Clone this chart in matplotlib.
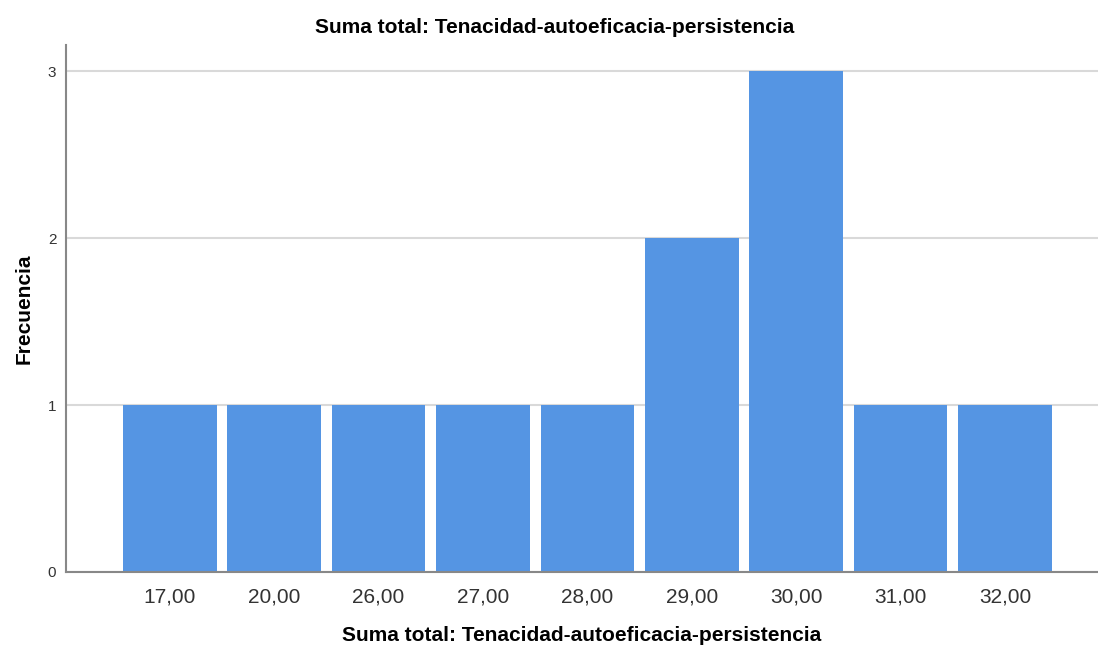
import matplotlib.pyplot as plt

categorias = ["17,00", "20,00", "26,00", "27,00", "28,00", "29,00", "30,00", "31,00", "32,00"]
frecuencias = [1, 1, 1, 1, 1, 2, 3, 1, 1]
y_ticks = [0, 1, 2, 3]

plt.rcParams["font.family"] = ["Liberation Sans", "DejaVu Sans"]

fig = plt.figure(figsize=(10.98, 6.46), dpi=100)
ax = fig.add_axes([0.0601, 0.1146, 0.9399, 0.8157])

pos = range(len(categorias))
ax.bar(pos, frecuencias, width=0.896, color="#5595e3", zorder=3)

ax.set_xlim(-0.994, 8.89)
ax.set_ylim(0, 3.156)
ax.set_xticks(list(pos))
ax.set_xticklabels(categorias, fontsize=15, color="#333333")
ax.set_yticks(y_ticks)
ax.set_yticklabels([str(t) for t in y_ticks], fontsize=11, color="#333333")
ax.tick_params(axis="both", length=0)
ax.tick_params(axis="x", pad=11)
ax.tick_params(axis="y", pad=7)

ax.grid(axis="y", color="#d9d9d9", linewidth=1.5, zorder=0)
for s in ["top", "right"]:
    ax.spines[s].set_visible(False)
for s in ["left", "bottom"]:
    ax.spines[s].set_color("#888888")
    ax.spines[s].set_linewidth(1.5)
    ax.spines[s].set_zorder(4)

# el titulo va centrado en la figura, no en los ejes
fig.text(0.505, 0.957, "Suma total: Tenacidad-autoeficacia-persistencia", fontsize=15,
         fontweight="bold", ha="center", va="center")
ax.set_xlabel("Suma total: Tenacidad-autoeficacia-persistencia", fontsize=15,
              fontweight="bold", labelpad=14)
ax.set_ylabel("Frecuencia", fontsize=15, fontweight="bold")
ax.yaxis.set_label_coords(-0.031, 0.5)

fig.savefig("out.png", dpi=100)
plt.close()
